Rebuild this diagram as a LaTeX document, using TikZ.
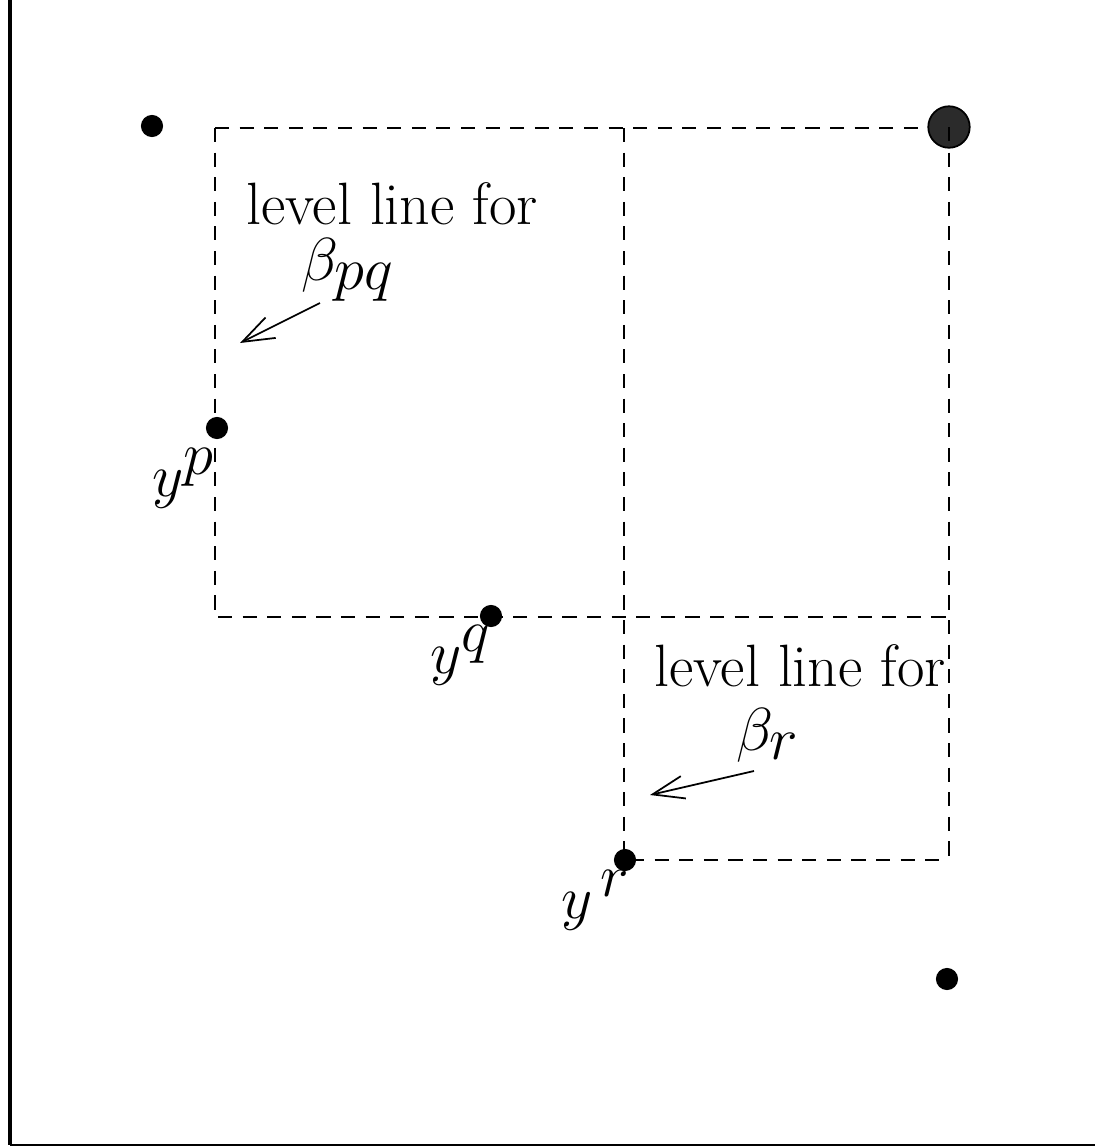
\documentclass[tikz,border=0pt]{standalone}
\usepackage{amsmath}
\usepackage{tikz}
\usetikzlibrary{arrows.meta}

\tikzset{
  pt/.style={circle,fill=black,inner sep=0pt,minimum size=6.3pt},
  bigpt/.style={circle,draw=black,fill=black!83,line width=0.5pt,inner sep=0pt,minimum size=11.8pt},
  level/.style={dashed,dash pattern=on 4pt off 3pt,line width=0.45pt},
  pointer/.style={-{Straight Barb[length=9pt,width=6.5pt]},line width=0.5pt},
  lbl/.style={inner sep=0pt}
}

\begin{document}
\begin{tikzpicture}[x=0.1mm,y=-0.1mm,font=\fontsize{17pt}{20pt}\selectfont]
  \useasboundingbox (0,0) rectangle (1095,1147);
  % axes
  \draw[line width=1.1pt] (10,0) coordinate (top) -- (10,1145) coordinate (origin);
  \draw[line width=0.7pt] (origin) -- (1095,1145);

  % corners of the level lines
  \coordinate (a) at (215,128);
  \coordinate (b) at (624,128);
  \coordinate (c) at (949,128);
  \coordinate (d) at (215,617);
  \coordinate (e) at (624,617);
  \coordinate (f) at (949,617);
  \coordinate (g) at (624,860);
  \coordinate (h) at (949,860);
  \draw[level] (a) -- (c);
  \draw[level] (a) -- (d) -- (f);
  \draw[level] (b) -- (g) -- (h);
  \draw[level] (c) -- (h);

  % points
  \node[bigpt] (ideal) at (949,127) {};
  \draw[level] (ideal.center) -- (ideal.south);
  \foreach \name/\x/\y in {p0/152/126,yp/217/428,yq/491/616,yr/625/860,p4/947/979} {
    \node[pt] (\name) at (\x,\y) {};
  }
  \node[lbl] (labp) at (184,478) {$y^{\textstyle p}$};
  \node[lbl] (labq) at (461,655) {$y^{\textstyle q}$};
  \node[lbl] (labr) at (596,900) {$y^{\,\textstyle r}$};

  % annotations
  \node[lbl] (txtpq) at (392,204) {level line for};
  \node[lbl] (betapq) at (348,270) {$\beta_{\textstyle pq}$};
  \coordinate (tailpq) at (320,303);
  \coordinate (headpq) at (240,343);
  \draw[pointer] (tailpq) -- (headpq);

  \node[lbl] (txtr) at (800,666) {level line for};
  \node[lbl] (betar) at (768,735) {$\beta_{\textstyle r}$};
  \coordinate (tailr) at (754,771);
  \coordinate (headr) at (650,795);
  \draw[pointer] (tailr) -- (headr);
\end{tikzpicture}
\end{document}
